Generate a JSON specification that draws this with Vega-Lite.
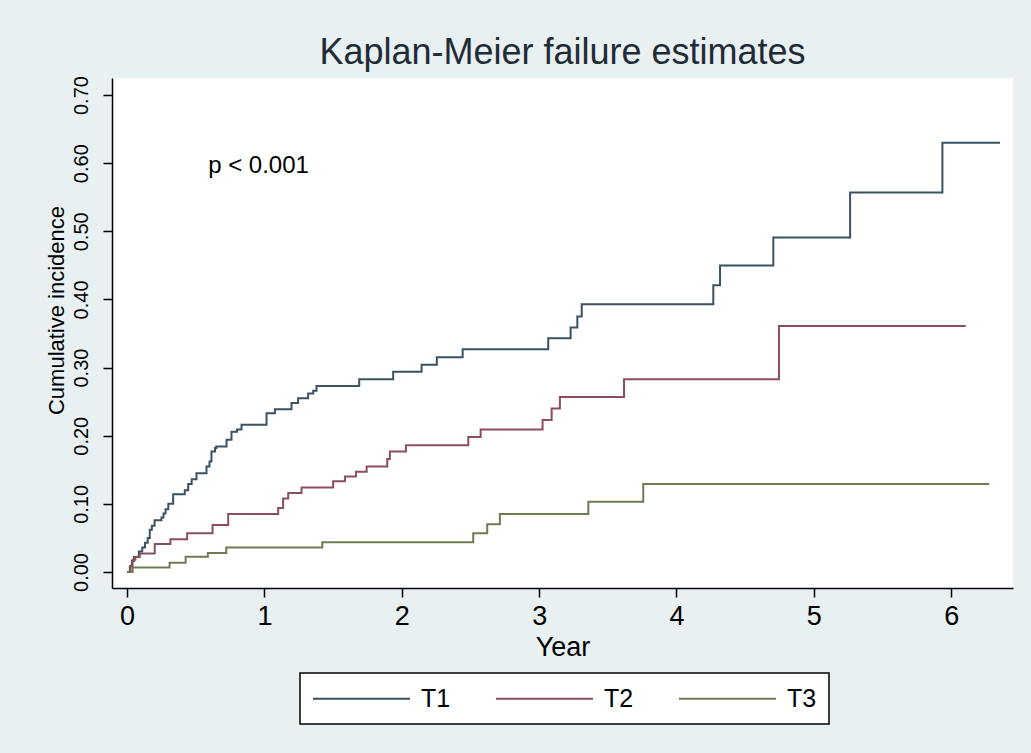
{
  "$schema": "https://vega.github.io/schema/vega-lite/v6.json",
  "width": 901,
  "height": 510,
  "autosize": {"type": "none"},
  "padding": {"left": 112, "top": 78, "right": 18, "bottom": 165},
  "background": "#e8f0f1",
  "view": {"fill": "white", "stroke": null},
  "config": {"font": "Liberation Sans", "legend": {"strokeWidth": 1.5}},
  "title": {"text": "Kaplan-Meier failure estimates", "fontSize": 36, "fontWeight": "normal", "color": "#1f2b36", "baseline": "alphabetic", "offset": 12, "dy": 36, "anchor": "middle"},
  "datasets": {
    "km": [
      {"group": "T1", "year": 0, "value": 0},
      {"group": "T1", "year": 0.02, "value": 0.008},
      {"group": "T1", "year": 0.035, "value": 0.016},
      {"group": "T1", "year": 0.05, "value": 0.022},
      {"group": "T1", "year": 0.085, "value": 0.03},
      {"group": "T1", "year": 0.11, "value": 0.036},
      {"group": "T1", "year": 0.13, "value": 0.043},
      {"group": "T1", "year": 0.15, "value": 0.05},
      {"group": "T1", "year": 0.165, "value": 0.062},
      {"group": "T1", "year": 0.18, "value": 0.068},
      {"group": "T1", "year": 0.2, "value": 0.076},
      {"group": "T1", "year": 0.25, "value": 0.08},
      {"group": "T1", "year": 0.265, "value": 0.086},
      {"group": "T1", "year": 0.28, "value": 0.092},
      {"group": "T1", "year": 0.3, "value": 0.1},
      {"group": "T1", "year": 0.335, "value": 0.114},
      {"group": "T1", "year": 0.42, "value": 0.12},
      {"group": "T1", "year": 0.445, "value": 0.129},
      {"group": "T1", "year": 0.47, "value": 0.136},
      {"group": "T1", "year": 0.505, "value": 0.145},
      {"group": "T1", "year": 0.578, "value": 0.155},
      {"group": "T1", "year": 0.6, "value": 0.162},
      {"group": "T1", "year": 0.614, "value": 0.177},
      {"group": "T1", "year": 0.64, "value": 0.182},
      {"group": "T1", "year": 0.65, "value": 0.184},
      {"group": "T1", "year": 0.724, "value": 0.194},
      {"group": "T1", "year": 0.76, "value": 0.206},
      {"group": "T1", "year": 0.8, "value": 0.209},
      {"group": "T1", "year": 0.833, "value": 0.216},
      {"group": "T1", "year": 1.015, "value": 0.233},
      {"group": "T1", "year": 1.076, "value": 0.239},
      {"group": "T1", "year": 1.197, "value": 0.248},
      {"group": "T1", "year": 1.245, "value": 0.255},
      {"group": "T1", "year": 1.318, "value": 0.262},
      {"group": "T1", "year": 1.355, "value": 0.266},
      {"group": "T1", "year": 1.379, "value": 0.273},
      {"group": "T1", "year": 1.69, "value": 0.283},
      {"group": "T1", "year": 1.937, "value": 0.294},
      {"group": "T1", "year": 2.144, "value": 0.304},
      {"group": "T1", "year": 2.255, "value": 0.315},
      {"group": "T1", "year": 2.443, "value": 0.327},
      {"group": "T1", "year": 3.066, "value": 0.343},
      {"group": "T1", "year": 3.229, "value": 0.359},
      {"group": "T1", "year": 3.278, "value": 0.375},
      {"group": "T1", "year": 3.31, "value": 0.393},
      {"group": "T1", "year": 4.268, "value": 0.421},
      {"group": "T1", "year": 4.317, "value": 0.45},
      {"group": "T1", "year": 4.705, "value": 0.491},
      {"group": "T1", "year": 5.264, "value": 0.557},
      {"group": "T1", "year": 5.936, "value": 0.63},
      {"group": "T1", "year": 6.356, "value": 0.63},
      {"group": "T2", "year": 0, "value": 0},
      {"group": "T2", "year": 0.025, "value": 0.009},
      {"group": "T2", "year": 0.04, "value": 0.018},
      {"group": "T2", "year": 0.06, "value": 0.022},
      {"group": "T2", "year": 0.092, "value": 0.027},
      {"group": "T2", "year": 0.201, "value": 0.041},
      {"group": "T2", "year": 0.315, "value": 0.048},
      {"group": "T2", "year": 0.437, "value": 0.057},
      {"group": "T2", "year": 0.622, "value": 0.069},
      {"group": "T2", "year": 0.736, "value": 0.085},
      {"group": "T2", "year": 1.1, "value": 0.094},
      {"group": "T2", "year": 1.136, "value": 0.108},
      {"group": "T2", "year": 1.173, "value": 0.116},
      {"group": "T2", "year": 1.27, "value": 0.124},
      {"group": "T2", "year": 1.5, "value": 0.133},
      {"group": "T2", "year": 1.586, "value": 0.14},
      {"group": "T2", "year": 1.666, "value": 0.147},
      {"group": "T2", "year": 1.744, "value": 0.155},
      {"group": "T2", "year": 1.894, "value": 0.166},
      {"group": "T2", "year": 1.913, "value": 0.177},
      {"group": "T2", "year": 2.03, "value": 0.186},
      {"group": "T2", "year": 2.484, "value": 0.198},
      {"group": "T2", "year": 2.574, "value": 0.209},
      {"group": "T2", "year": 3.025, "value": 0.223},
      {"group": "T2", "year": 3.091, "value": 0.24},
      {"group": "T2", "year": 3.151, "value": 0.257},
      {"group": "T2", "year": 3.618, "value": 0.283},
      {"group": "T2", "year": 4.746, "value": 0.361},
      {"group": "T2", "year": 6.106, "value": 0.361},
      {"group": "T3", "year": 0, "value": 0},
      {"group": "T3", "year": 0.04, "value": 0.0065},
      {"group": "T3", "year": 0.309, "value": 0.0137},
      {"group": "T3", "year": 0.426, "value": 0.0225},
      {"group": "T3", "year": 0.588, "value": 0.028},
      {"group": "T3", "year": 0.722, "value": 0.036},
      {"group": "T3", "year": 1.421, "value": 0.0436},
      {"group": "T3", "year": 2.52, "value": 0.057},
      {"group": "T3", "year": 2.622, "value": 0.07},
      {"group": "T3", "year": 2.714, "value": 0.085},
      {"group": "T3", "year": 3.358, "value": 0.103},
      {"group": "T3", "year": 3.758, "value": 0.129},
      {"group": "T3", "year": 6.276, "value": 0.129}
    ],
    "annot": [
      {"year": 0.59, "value": 0.585, "label": "p < 0.001"}
    ]
  },
  "layer": [
    {
      "data": {"name": "km"},
      "mark": {"type": "line", "interpolate": "step-after", "strokeWidth": 2},
      "encoding": {
        "x": {
          "field": "year", "type": "quantitative",
          "scale": {"domain": [-0.11, 6.45], "nice": false, "zero": false},
          "axis": {
            "values": [0, 1, 2, 3, 4, 5, 6], "format": "d", "title": "Year", "grid": false,
            "labelFontSize": 27, "titleFontSize": 27, "titleFontWeight": "normal",
            "tickSize": 9, "labelPadding": 6, "labelFlush": false,
            "domainColor": "black", "tickColor": "black", "domainWidth": 1.5, "tickWidth": 1.5,
            "labelColor": "black", "titleColor": "black",
            "titleY": 67, "titleBaseline": "alphabetic"
          }
        },
        "y": {
          "field": "value", "type": "quantitative",
          "scale": {"domain": [-0.0235, 0.725], "nice": false, "zero": false},
          "axis": {
            "values": [0, 0.1, 0.2, 0.3, 0.4, 0.5, 0.6, 0.7], "format": ".2f",
            "title": "Cumulative incidence", "grid": false,
            "labelAngle": -90, "labelAlign": "center", "labelBaseline": "alphabetic",
            "labelFontSize": 20, "labelPadding": 16, "labelFlush": false,
            "tickSize": 9, "domainColor": "black", "tickColor": "black", "domainWidth": 1.5, "tickWidth": 1.5,
            "labelColor": "black", "titleColor": "black",
            "titleFontSize": 22, "titleFontWeight": "normal",
            "titleAngle": 270, "titleAlign": "center", "titleBaseline": "alphabetic",
            "titleX": -49, "titleY": 232
          }
        },
        "color": {
          "field": "group", "type": "nominal",
          "scale": {"domain": ["T1", "T2", "T3"], "range": ["#3a5262", "#8c4d5e", "#6e7c53"]},
          "legend": {
            "orient": "none", "legendX": 188, "legendY": 595, "direction": "horizontal",
            "title": null, "symbolType": "M-1,0H6.76", "symbolSize": 625, "symbolStrokeWidth": 2,
            "labelFontSize": 25, "labelOffset": 82, "columnPadding": 41, "padding": 12,
            "strokeColor": "black", "fillColor": "white", "labelColor": "black"
          }
        }
      }
    },
    {
      "data": {"name": "annot"},
      "mark": {"type": "text", "align": "left", "baseline": "alphabetic", "fontSize": 24, "color": "black"},
      "encoding": {
        "x": {"field": "year", "type": "quantitative"},
        "y": {"field": "value", "type": "quantitative"},
        "text": {"field": "label"}
      }
    }
  ]
}
